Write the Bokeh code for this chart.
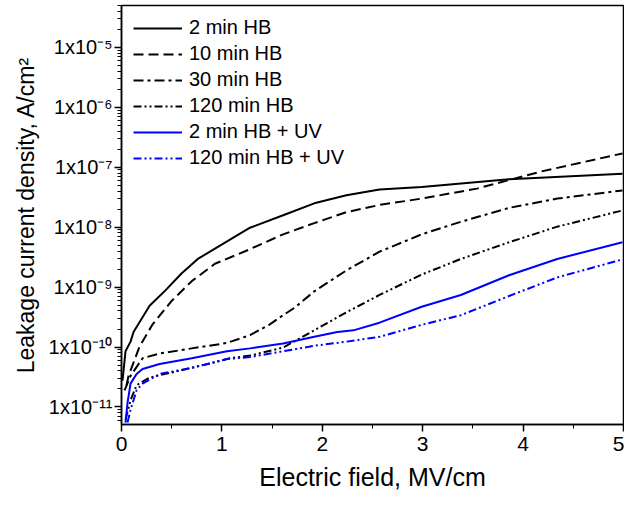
from bokeh.plotting import figure
from bokeh.models import FixedTicker, CustomJSTickFormatter, Legend, LegendItem, Range1d
from bokeh.embed import file_html
from bokeh.resources import INLINE

# ---------------- data ----------------
field_2hb = [0.01, 0.04, 0.09, 0.12, 0.28, 0.44, 0.60, 0.76, 0.96, 1.28, 1.61, 1.92, 2.24, 2.57, 2.99, 3.86, 4.99]
j_2hb = [2.75e-11, 8.5e-11, 1.23e-10, 1.78e-10, 4.9e-10, 8.9e-10, 1.7e-9, 2.95e-9, 4.7e-9, 9.8e-9,
         1.58e-8, 2.5e-8, 3.4e-8, 4.25e-8, 4.7e-8, 6.3e-8, 7.8e-8]

field_10hb = [0.05, 0.07, 0.18, 0.31, 0.50, 0.70, 0.93, 1.28, 1.61, 1.92, 2.24, 2.57, 2.99, 3.54, 4.18, 4.99]
j_10hb = [2.3e-11, 3.3e-11, 1.02e-10, 2.4e-10, 5.9e-10, 1.26e-9, 2.45e-9, 4.3e-9, 7.6e-9, 1.17e-8,
          1.78e-8, 2.35e-8, 3.0e-8, 4.4e-8, 8.5e-8, 1.7e-7]

field_30hb = [0.03, 0.09, 0.21, 0.38, 0.70, 1.05, 1.28, 1.47, 1.61, 1.73, 1.92, 2.24, 2.57, 2.99, 3.38, 3.86, 4.34, 4.99]
j_30hb = [1.9e-11, 3.3e-11, 6.5e-11, 7.8e-11, 9.5e-11, 1.17e-10, 1.58e-10, 2.35e-10, 3.4e-10, 4.6e-10,
          8.5e-10, 1.9e-9, 3.9e-9, 7.6e-9, 1.23e-8, 2.1e-8, 3.0e-8, 4.1e-8]

field_120hb = [0.04, 0.09, 0.15, 0.28, 0.54, 0.86, 1.08, 1.28, 1.61, 1.92, 2.24, 2.57, 2.99, 3.38, 3.86, 4.34, 4.99]
j_120hb = [6.2e-12, 1.29e-11, 2.3e-11, 3.1e-11, 3.9e-11, 5.2e-11, 6.5e-11, 7.2e-11, 9.8e-11, 1.9e-10,
           3.8e-10, 7.4e-10, 1.62e-9, 2.95e-9, 5.6e-9, 1.02e-8, 1.9e-8]

field_2hb_uv = [0.04, 0.06, 0.09, 0.15, 0.21, 0.38, 0.70, 1.05, 1.28, 1.61, 1.92, 2.15, 2.31, 2.57, 2.99, 3.38, 3.86, 4.34, 4.99]
j_2hb_uv = [5.5e-12, 1.17e-11, 2.45e-11, 3.55e-11, 4.3e-11, 5.2e-11, 6.5e-11, 8.5e-11, 9.5e-11, 1.15e-10,
            1.48e-10, 1.78e-10, 1.9e-10, 2.55e-10, 4.7e-10, 7.4e-10, 1.58e-9, 2.95e-9, 5.6e-9]

field_120hb_uv = [0.06, 0.09, 0.15, 0.21, 0.38, 0.70, 1.05, 1.28, 1.61, 1.92, 2.24, 2.57, 2.99, 3.38, 3.86, 4.34, 4.99]
j_120hb_uv = [5.5e-12, 8.9e-12, 1.9e-11, 2.45e-11, 3.55e-11, 4.5e-11, 6.3e-11, 6.8e-11, 8.5e-11, 1.05e-10,
              1.23e-10, 1.48e-10, 2.35e-10, 3.4e-10, 7.1e-10, 1.45e-9, 2.9e-9]

series_names = ["2 min HB", "10 min HB", "30 min HB", "120 min HB", "2 min HB + UV", "120 min HB + UV"]

x_ticks = [0, 1, 2, 3, 4, 5]
x_minor_ticks = [0.5, 1.5, 2.5, 3.5, 4.5]
y_ticks = [1e-11, 1e-10, 1e-9, 1e-8, 1e-7, 1e-6, 1e-5]
y_tick_labels = ["1x10⁻¹¹", "1x10⁻¹⁰", "1x10⁻⁹", "1x10⁻⁸", "1x10⁻⁷", "1x10⁻⁶", "1x10⁻⁵"]

x_label = "Electric field, MV/cm"
y_label = "Leakage current density, A/cm²"

# ---------------- figure ----------------
FONT = "Liberation Sans"

p = figure(width=624, height=496, output_backend="svg", toolbar_location=None,
           y_axis_type="log",
           x_range=Range1d(0, 5), y_range=Range1d(5.1e-12, 5.0e-5),
           min_border_left=121, min_border_right=1, min_border_top=5, min_border_bottom=72)
p.grid.visible = False
p.outline_line_color = "black"
p.outline_line_width = 1.5
p.background_fill_color = "white"
p.border_fill_color = "white"

y_minor = []
for e in range(-12, -4):
    for k in range(2, 10):
        v = k * 10.0 ** e
        y_minor.append(v)

p.xaxis.ticker = FixedTicker(ticks=x_ticks, minor_ticks=x_minor_ticks)
p.yaxis.ticker = FixedTicker(ticks=y_ticks, minor_ticks=y_minor)
p.yaxis.formatter = CustomJSTickFormatter(args=dict(vals=y_ticks, labs=y_tick_labels), code="""
    for (let i = 0; i < vals.length; i++) {
        if (Math.abs(Math.log10(vals[i]) - Math.log10(tick)) < 0.01) { return labs[i]; }
    }
    return "";
""")

for ax in (p.xaxis, p.yaxis):
    ax.axis_line_width = 1.5
    ax.axis_line_color = "black"
    ax.major_tick_line_width = 1.5
    ax.minor_tick_line_width = 1
    ax.major_tick_line_color = "black"
    ax.minor_tick_line_color = "black"
    ax.major_tick_in = 0
    ax.minor_tick_in = 0
    ax.major_tick_out = 7
    ax.minor_tick_out = 4
    ax.major_label_text_font = FONT
    ax.major_label_text_color = "black"
    ax.axis_label_text_font = FONT
    ax.axis_label_text_font_style = "normal"
    ax.axis_label_text_color = "black"

p.xaxis.axis_label_text_font_size = "25px"
p.yaxis.axis_label_text_font_size = "23px"
p.xaxis.major_label_text_font_size = "21px"
p.yaxis.major_label_text_font_size = "20px"
p.xaxis.major_label_standoff = 5
p.yaxis.major_label_standoff = 2
p.xaxis.axis_label_standoff = 9
p.yaxis.axis_label_standoff = 6
p.xaxis.axis_label = x_label
p.yaxis.axis_label = y_label

styles = [
    (field_2hb, j_2hb, "black", "solid"),
    (field_10hb, j_10hb, "black", "10 5"),
    (field_30hb, j_30hb, "black", "10 4 3 4"),
    (field_120hb, j_120hb, "black", "8 3 2 3 2 3"),
    (field_2hb_uv, j_2hb_uv, "#0000FF", "solid"),
    (field_120hb_uv, j_120hb_uv, "#0000FF", "8 3 2 3 2 3"),
]

items = []
for name, (xs, ys, col, dash) in zip(series_names, styles):
    r = p.line(xs, ys, line_color=col, line_width=2, line_dash=dash)
    items.append(LegendItem(label=name, renderers=[r]))

legend = Legend(items=items, location=(12, 255), margin=0, padding=0,
                glyph_width=49, glyph_height=20, label_height=20, spacing=3,
                label_standoff=7, label_text_font=FONT, label_text_font_size="20px",
                label_text_color="black", border_line_color=None,
                background_fill_alpha=0)
p.add_layout(legend, "center")

open("out.html", "w").write(file_html(p, INLINE))
